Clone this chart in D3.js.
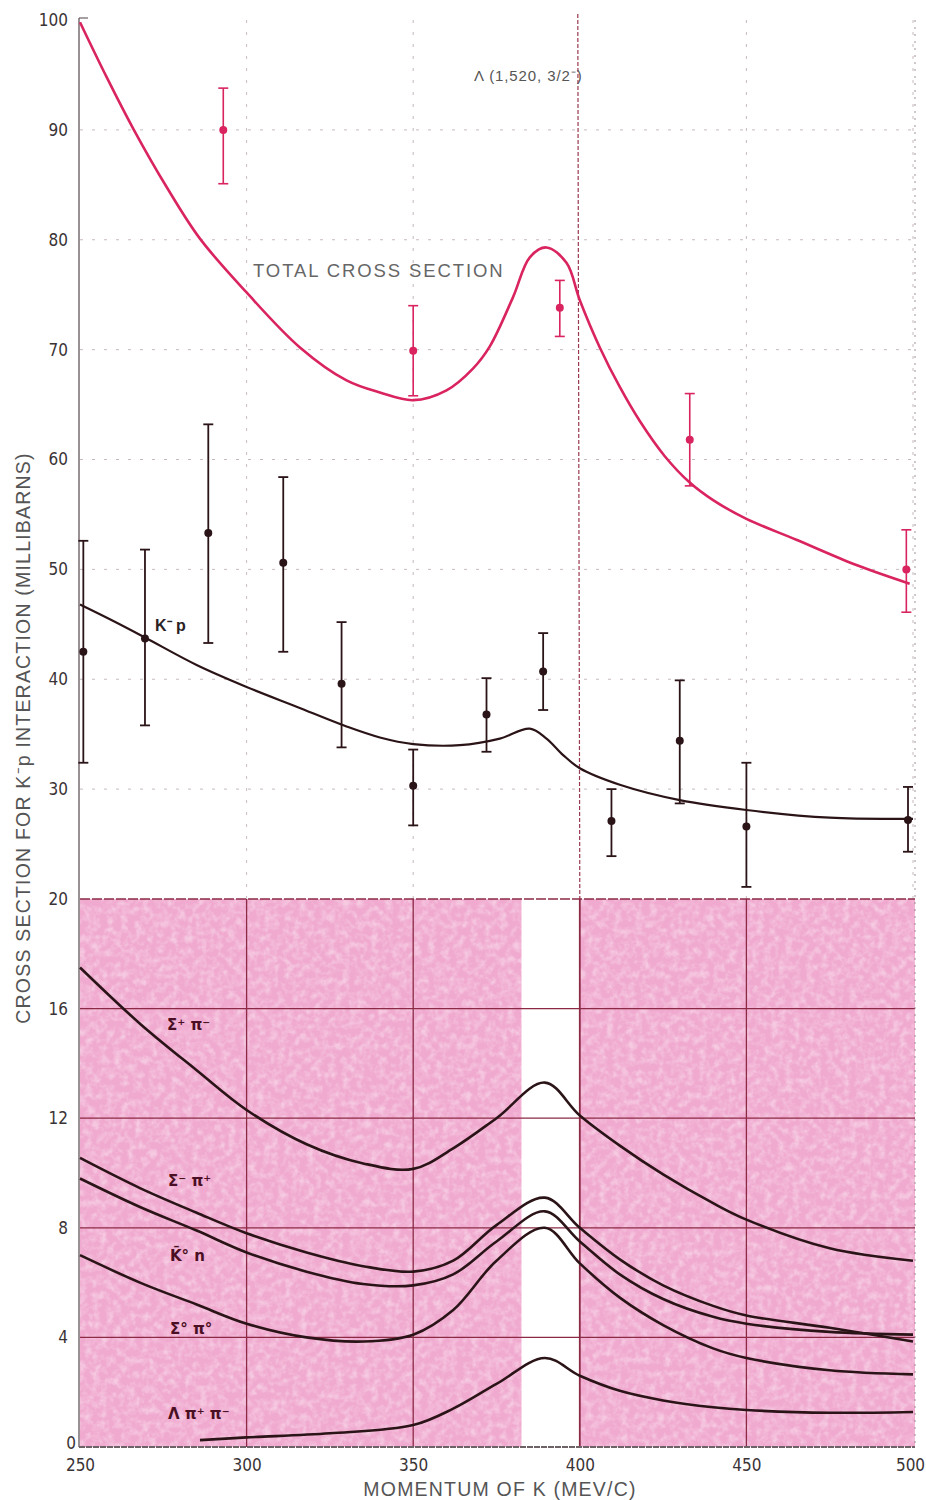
<!DOCTYPE html>
<html>
<head>
<meta charset="utf-8">
<script src="https://cdn.jsdelivr.net/npm/d3@7"></script>
<style>
  body { margin: 0; background: #fff; }
  svg { display: block; }
  .tick text { font-family: "DejaVu Sans Condensed", "Liberation Sans Narrow", "Liberation Sans", sans-serif; font-stretch: condensed; }
</style>
</head>
<body>
<svg width="926" height="1500"></svg>
<script>
// ---- data ----
// total cross section (red curve)
var totalMomentum = [250, 258, 266, 276, 286, 300, 316, 330, 340, 350, 360, 368, 373, 380, 385, 390, 396, 400, 406, 412, 418, 425.5, 433, 440, 450, 465, 483, 499];
var totalValues   = [99.8, 94.8, 90.1, 84.8, 80.1, 75.2, 70.2, 67.2, 66.1, 65.4, 66.3, 68.3, 70.3, 74.8, 78.4, 79.3, 77.9, 74.5, 70.2, 66.6, 63.5, 60.3, 57.9, 56.3, 54.6, 52.7, 50.4, 48.7];

// total cross section measurements
var totalPtMomentum = [293, 350, 394, 433, 498];
var totalPtValue    = [90, 69.9, 73.8, 61.8, 50.0];
var totalPtHigh     = [93.8, 74, 76.3, 66, 53.6];
var totalPtLow      = [85.1, 65.8, 71.2, 57.6, 46.1];

// K- p curve (black)
var kpMomentum = [250, 260, 269.5, 285, 300, 315, 330, 340, 350, 364, 376, 385, 390, 395, 400, 412, 430, 450, 475, 500];
var kpValues   = [46.8, 45.3, 43.8, 41.3, 39.3, 37.5, 35.7, 34.7, 34.1, 34.0, 34.6, 35.5, 34.6, 33.1, 31.9, 30.4, 29.0, 28.1, 27.4, 27.3];

// K- p measurements
var kpPtMomentum = [251, 269.5, 288.5, 311, 328.5, 350, 372, 389, 409.5, 430, 450, 498.5];
var kpPtValue    = [42.5, 43.7, 53.3, 50.6, 39.6, 30.3, 36.8, 40.7, 27.1, 34.4, 26.6, 27.2];
var kpPtHigh     = [52.6, 51.8, 63.2, 58.4, 45.2, 33.6, 40.1, 44.2, 30.0, 39.9, 32.4, 30.2];
var kpPtLow      = [32.4, 35.8, 43.3, 42.5, 33.8, 26.7, 33.4, 37.2, 23.9, 28.7, 21.1, 24.3];

// reaction channels (lower pink panel)
var channelMomentum = [250, 268, 285, 300, 318, 335, 350, 362, 375, 389.5, 400, 412, 425, 440, 450, 475, 500];
var sigmaPlusPiMinus = [17.5, 15.45, 13.75, 12.3, 11.05, 10.35, 10.15, 10.9, 12.0, 13.3, 12.1, 11.0, 9.95, 8.9, 8.3, 7.25, 6.8];
var sigmaMinusPiPlus = [10.55, 9.45, 8.55, 7.8, 7.1, 6.6, 6.4, 6.8, 8.1, 9.1, 8.0, 6.85, 5.9, 5.15, 4.8, 4.35, 3.85];
var kbarN            = [9.8, 8.76, 7.9, 7.1, 6.4, 5.95, 5.9, 6.3, 7.5, 8.6, 7.5, 6.3, 5.4, 4.75, 4.5, 4.2, 4.1];
var sigmaZeroPiZero  = [7.0, 6.0, 5.2, 4.5, 4.0, 3.85, 4.1, 5.0, 6.8, 8.0, 6.7, 5.45, 4.45, 3.6, 3.25, 2.8, 2.65];
var lambdaMomentum = [286, 300, 325, 350, 362, 375, 389.5, 400, 412, 425, 440, 450, 475, 500];
var lambdaPiPi     = [0.25, 0.35, 0.5, 0.8, 1.4, 2.3, 3.25, 2.6, 2.05, 1.7, 1.45, 1.35, 1.25, 1.28];

var channelNames = ["Σ⁺ π⁻", "Σ⁻ π⁺", "K̄° n", "Σ° π°", "Λ π⁺ π⁻"];

var xTicks = [250, 300, 350, 400, 450, 500];
var upperTicks = [30, 40, 50, 60, 70, 80, 90, 100];
var lowerTicks = [0, 4, 8, 12, 16, 20];
var resonanceBand = [382.5, 400];   // white strip in the lower panel

// ---- drawing ----
var svg = d3.select("svg");
var font = "'Liberation Sans', Arial, sans-serif";

var x = d3.scaleLinear().domain([250, 500]).range([80, 913]);
var yTop = d3.scaleLinear().domain([20, 100]).range([899, 20]);
var yBot = d3.scaleLinear().domain([0, 20]).range([1447, 899]);

var red = "#d9245f", ink = "#2b1417", grid = "#8c2a45";

// pink panel texture
var defs = svg.append("defs");
var f = defs.append("filter").attr("id", "grain").attr("x", 0).attr("y", 0).attr("width", 1).attr("height", 1);
f.append("feTurbulence").attr("type", "fractalNoise").attr("baseFrequency", 0.14).attr("numOctaves", 3).attr("seed", 4);
f.append("feColorMatrix").attr("type", "matrix")
  .attr("values", "0 0 0 0 1  0 0 0 0 1  0 0 0 0 1  0 0 0 -2.2 1.35");

// lower panel background
svg.append("rect")
  .attr("x", x(250)).attr("y", yBot(20))
  .attr("width", x(500) - x(250) + 2).attr("height", yBot(0) - yBot(20))
  .attr("fill", "#f0a9cf");
svg.append("rect")
  .attr("x", x(250)).attr("y", yBot(20))
  .attr("width", x(500) - x(250) + 2).attr("height", yBot(0) - yBot(20))
  .attr("filter", "url(#grain)").attr("opacity", 0.4);
svg.append("rect")
  .attr("x", x(resonanceBand[0])).attr("y", yBot(20))
  .attr("width", x(resonanceBand[1]) - x(resonanceBand[0])).attr("height", yBot(0) - yBot(20))
  .attr("fill", "#fff");

// upper panel faint dotted grid
var g = svg.append("g");
g.selectAll(".hu").data(upperTicks.filter(function(d) { return d < 100; }))
  .enter().append("line")
  .attr("x1", x(250)).attr("x2", x(500))
  .attr("y1", function(d) { return yTop(d); }).attr("y2", function(d) { return yTop(d); })
  .attr("stroke", "#b9a8ad").attr("stroke-width", 0.8).attr("stroke-dasharray", "3,9");
g.selectAll(".vu").data([300, 350, 450, 500])
  .enter().append("line")
  .attr("x1", function(d) { return x(d); }).attr("x2", function(d) { return x(d); })
  .attr("y1", yTop(100)).attr("y2", yTop(20))
  .attr("stroke", "#b9a8ad").attr("stroke-width", 0.8).attr("stroke-dasharray", "3,9");
// resonance line (400) through upper panel
g.append("line")
  .attr("x1", x(400) - 2).attr("x2", x(400))
  .attr("y1", yTop(100) - 6).attr("y2", yTop(20))
  .attr("stroke", "#9a3a50").attr("stroke-width", 1.2).attr("stroke-dasharray", "4,2");

// lower panel grid
g.selectAll(".hl").data([4, 8, 12, 16, 20])
  .enter().append("line")
  .attr("x1", x(250)).attr("x2", x(500) + 2)
  .attr("y1", function(d) { return yBot(d); }).attr("y2", function(d) { return yBot(d); })
  .attr("stroke", grid).attr("stroke-width", 1.3)
  .attr("stroke-dasharray", function(d) { return d === 20 ? "10,2" : null; });
g.selectAll(".vl").data([300, 350, 400, 450])
  .enter().append("line")
  .attr("x1", function(d) { return x(d); }).attr("x2", function(d) { return x(d); })
  .attr("y1", yBot(20)).attr("y2", yBot(0))
  .attr("stroke", grid).attr("stroke-width", function(d) { return d === 400 ? 1.8 : 1.3; });
g.append("line")
  .attr("x1", x(500) + 2).attr("x2", x(500) + 2)
  .attr("y1", yTop(100)).attr("y2", yBot(0))
  .attr("stroke", "#8a7a7e").attr("stroke-width", 0.8).attr("stroke-dasharray", "2,5");

// axes
var axisL1 = svg.append("g").attr("transform", "translate(" + x(250) + ",0)")
  .call(d3.axisLeft(yTop).tickValues(upperTicks).tickSize(0).tickPadding(12));
var axisL2 = svg.append("g").attr("transform", "translate(" + x(250) + ",0)")
  .call(d3.axisLeft(yBot).tickValues(lowerTicks).tickSize(0).tickPadding(12));
var axisB = svg.append("g").attr("transform", "translate(0," + yBot(0) + ")")
  .call(d3.axisBottom(x).tickValues(xTicks).tickSize(0).tickPadding(12));
[axisL1, axisL2, axisB].forEach(function(a) {
  a.select(".domain").remove();
  a.selectAll("text").attr("font-size", 17).attr("fill", "#3a3335");
});
axisL2.selectAll("text").filter(function(d) { return d === 0; }).attr("x", -4).attr("dy", "0.1em");
axisB.selectAll("text").filter(function(d) { return d === 500; }).attr("x", -3);

svg.append("line").attr("x1", x(250) - 1).attr("x2", x(250) - 1)
  .attr("y1", yTop(100) - 2).attr("y2", yBot(0))
  .attr("stroke", "#6d6265").attr("stroke-width", 1.4);
svg.append("line").attr("x1", x(250) - 1).attr("x2", x(250) + 8)
  .attr("y1", yTop(100) - 2).attr("y2", yTop(100) - 2)
  .attr("stroke", "#6d6265").attr("stroke-width", 1.2);
svg.append("line").attr("x1", x(250) - 1).attr("x2", x(500) + 2)
  .attr("y1", yBot(0)).attr("y2", yBot(0))
  .attr("stroke", "#6d6265").attr("stroke-width", 2).attr("stroke-dasharray", "6,1");

// axis titles
svg.append("text")
  .attr("transform", "translate(30," + 738 + ") rotate(-90)")
  .attr("text-anchor", "middle")
  .attr("font-family", font).attr("font-size", 19.5).attr("fill", "#555")
  .attr("letter-spacing", 1.2)
  .text("CROSS SECTION FOR K⁻p INTERACTION (MILLIBARNS)");
svg.append("text")
  .attr("x", 500).attr("y", 1496)
  .attr("text-anchor", "middle")
  .attr("font-family", font).attr("font-size", 19.5).attr("fill", "#555")
  .attr("letter-spacing", 1.2)
  .text("MOMENTUM OF K (MEV/C)");

// curves
var lineTop = d3.line().curve(d3.curveCatmullRom.alpha(0.5))
  .x(function(d) { return x(d[0]); }).y(function(d) { return yTop(d[1]); });
var lineBot = d3.line().curve(d3.curveCatmullRom.alpha(0.5))
  .x(function(d) { return x(d[0]); }).y(function(d) { return yBot(d[1]); });

svg.append("path").datum(d3.zip(totalMomentum, totalValues))
  .attr("d", lineTop).attr("fill", "none").attr("stroke", red).attr("stroke-width", 2.6);
svg.append("path").datum(d3.zip(kpMomentum, kpValues))
  .attr("d", lineTop).attr("fill", "none").attr("stroke", ink).attr("stroke-width", 2.2);

var channels = [
  d3.zip(channelMomentum, sigmaPlusPiMinus),
  d3.zip(channelMomentum, sigmaMinusPiPlus),
  d3.zip(channelMomentum, kbarN),
  d3.zip(channelMomentum, sigmaZeroPiZero),
  d3.zip(lambdaMomentum, lambdaPiPi)
];
svg.selectAll(".ch").data(channels).enter().append("path")
  .attr("d", lineBot).attr("fill", "none").attr("stroke", ink).attr("stroke-width", 2.6);

// error bars
function errorBars(mom, val, hi, lo, color, w) {
  var pts = mom.map(function(m, i) { return {m: m, v: val[i], h: hi[i], l: lo[i]}; });
  var e = svg.append("g").selectAll("g").data(pts).enter().append("g")
    .attr("stroke", color).attr("stroke-width", w);
  e.append("line").attr("x1", function(d) { return x(d.m); }).attr("x2", function(d) { return x(d.m); })
    .attr("y1", function(d) { return yTop(d.h); }).attr("y2", function(d) { return yTop(d.l); });
  e.append("line").attr("x1", function(d) { return x(d.m) - 5; }).attr("x2", function(d) { return x(d.m) + 5; })
    .attr("y1", function(d) { return yTop(d.h); }).attr("y2", function(d) { return yTop(d.h); });
  e.append("line").attr("x1", function(d) { return x(d.m) - 5; }).attr("x2", function(d) { return x(d.m) + 5; })
    .attr("y1", function(d) { return yTop(d.l); }).attr("y2", function(d) { return yTop(d.l); });
  e.append("circle").attr("cx", function(d) { return x(d.m); }).attr("cy", function(d) { return yTop(d.v); })
    .attr("r", 4).attr("fill", color).attr("stroke", "none");
}
errorBars(totalPtMomentum, totalPtValue, totalPtHigh, totalPtLow, red, 1.6);
errorBars(kpPtMomentum, kpPtValue, kpPtHigh, kpPtLow, ink, 1.8);

// labels
svg.append("text").attr("x", 253).attr("y", 277)
  .attr("font-family", font).attr("font-size", 18.5).attr("fill", "#666")
  .attr("letter-spacing", 1.9).attr("font-weight", 300)
  .text("TOTAL CROSS SECTION");
svg.append("text").attr("x", 474).attr("y", 81)
  .attr("font-family", font).attr("font-size", 15).attr("fill", "#555")
  .attr("letter-spacing", 0.9)
  .text("Λ (1,520, 3/2⁻)");
svg.append("text").attr("x", 155).attr("y", 631)
  .attr("font-family", font).attr("font-size", 16).attr("font-weight", "bold").attr("fill", "#2b2224")
  .text("K⁻ p");

var labelPos = [[167, 1030], [168, 1186], [170, 1261], [170, 1334], [168, 1419]];
svg.selectAll(".lab").data(channelNames).enter().append("text")
  .attr("x", function(d, i) { return labelPos[i][0]; })
  .attr("y", function(d, i) { return labelPos[i][1]; })
  .attr("font-family", "'DejaVu Sans', sans-serif").attr("font-size", 15).attr("font-weight", "bold")
  .attr("fill", "#4a0f22")
  .text(function(d) { return d; });
</script>
</body>
</html>
